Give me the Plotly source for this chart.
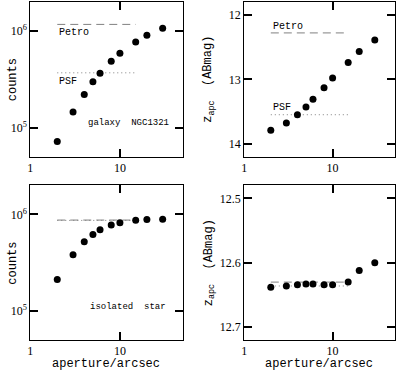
import plotly.graph_objects as go

aperture = [2, 3, 4, 5, 6, 8, 10, 15, 20, 30]

galaxy_counts = [7.2e4, 1.45e5, 2.2e5, 2.98e5, 3.66e5, 4.87e5, 5.89e5, 7.7e5, 9.05e5, 1.07e6]
galaxy_mag = [13.79, 13.68, 13.55, 13.43, 13.31, 13.13, 12.98, 12.74, 12.57, 12.39]
star_counts = [2.12e5, 3.84e5, 5.23e5, 6.22e5, 6.95e5, 7.76e5, 8.2e5, 8.73e5, 8.87e5, 8.93e5]
star_mag = [12.638, 12.636, 12.634, 12.633, 12.633, 12.634, 12.634, 12.630, 12.612, 12.600]

ref_x = [2, 15]
galaxy_petro_counts = 1.17e6
galaxy_psf_counts = 3.69e5
galaxy_petro_mag = 12.28
galaxy_psf_mag = 13.55
star_petro_counts = 8.75e5
star_psf_counts = 8.68e5
star_petro_mag = 12.630
star_psf_mag = 12.636

x_major = [1, 10]
x_minor = [2, 3, 4, 5, 6, 7, 8, 9, 20, 30, 40]
counts_major = [1e5, 1e6]
counts_minor = [m * 10 ** e for e in (4, 5, 6) for m in range(2, 10)]

SERIF = "Liberation Serif"
MONO = "Liberation Mono"
INK = "black"

fig = go.Figure()

panels = [
    ("x", "y", galaxy_counts, galaxy_petro_counts, galaxy_psf_counts),
    ("x2", "y2", galaxy_mag, galaxy_petro_mag, galaxy_psf_mag),
    ("x3", "y3", star_counts, star_petro_counts, star_psf_counts),
    ("x4", "y4", star_mag, star_petro_mag, star_psf_mag),
]

for xa, ya, vals, petro, psf in panels:
    fig.add_trace(go.Scatter(x=ref_x, y=[petro, petro], xaxis=xa, yaxis=ya, mode="lines",
                             line=dict(color="#808080", width=1, dash="8px,5px"), showlegend=False))
    fig.add_trace(go.Scatter(x=ref_x, y=[psf, psf], xaxis=xa, yaxis=ya, mode="lines",
                             line=dict(color="#808080", width=1, dash="1px,3px"), showlegend=False))
    fig.add_trace(go.Scatter(x=aperture, y=vals, xaxis=xa, yaxis=ya, mode="markers",
                             marker=dict(color="black", size=7), showlegend=False))

common = dict(showline=True, linecolor=INK, linewidth=1, mirror="allticks",
              ticks="inside", ticklen=8, tickwidth=2, tickcolor=INK, showgrid=False,
              zeroline=False, tickfont=dict(family=SERIF, size=12, color=INK))
minor_common = dict(showline=False, mirror="allticks", ticks="inside", ticklen=5, tickwidth=2,
                    tickcolor=INK, showgrid=False, zeroline=False, showticklabels=False)

# panel positions (plot area is 395 x 369 px inside a 1px margin)
xl = [0.0671, 0.4557]
xr = [0.6127, 0.9962]
yt = [0.5799, 1.0]
yb = [0.0813, 0.5014]

layout = dict(width=397, height=371, margin=dict(l=1, r=1, t=1, b=1),
              paper_bgcolor="white", plot_bgcolor="white")

# (axis number, x domain, y domain, y kind)
grid = [(1, xl, yt, "counts"), (2, xr, yt, "mag_top"),
        (3, xl, yb, "counts"), (4, xr, yb, "mag_bot")]

for n, xd, yd, kind in grid:
    s = "" if n == 1 else str(n)
    m = str(n + 4)
    layout["xaxis" + s] = dict(common, type="log", range=[0, 1.7], domain=xd, anchor="y" + s,
                               tickvals=x_major, ticktext=["1", "10"])
    layout["xaxis" + m] = dict(minor_common, type="log", range=[0, 1.7], overlaying="x" + s,
                               anchor="y" + s, tickvals=x_minor)
    if kind == "counts":
        layout["yaxis" + s] = dict(common, type="log", range=[4.7, 6.3], domain=yd,
                                   anchor="x" + s, tickvals=counts_major,
                                   ticktext=["10<sup>5</sup>", "10<sup>6</sup>"])
        layout["yaxis" + m] = dict(minor_common, type="log", range=[4.7, 6.3],
                                   overlaying="y" + s, anchor="x" + s, tickvals=counts_minor)
    else:
        rng, dt, mdt = ([14.2, 11.8], 1, 0.2) if kind == "mag_top" else ([12.72, 12.48], 0.1, 0.02)
        layout["yaxis" + s] = dict(common, range=rng, domain=yd, anchor="x" + s, dtick=dt,
                                   tick0=12)
        layout["yaxis" + m] = dict(minor_common, range=rng, overlaying="y" + s,
                                   anchor="x" + s, dtick=mdt, tick0=12)

fig.update_layout(**layout)

# axis titles
title_font = dict(family=MONO, size=12, color=INK)
for xc in (sum(xl) / 2, sum(xr) / 2):
    fig.add_annotation(xref="paper", yref="paper", x=xc, y=6 / 369, text="aperture/arcsec",
                       showarrow=False, xanchor="center", yanchor="middle", font=title_font)
for yc in (sum(yt) / 2, sum(yb) / 2):
    fig.add_annotation(xref="paper", yref="paper", x=9 / 395, y=yc, text="counts", textangle=-90,
                       showarrow=False, xanchor="center", yanchor="middle",
                       font=dict(family=MONO, size=12, color=INK))
    fig.add_annotation(xref="paper", yref="paper", x=207 / 395, y=yc, text="z<sub>apc</sub>  (ABmag)",
                       textangle=-90, showarrow=False, xanchor="center", yanchor="middle",
                       font=dict(family=MONO, size=12, color=INK))

lab = dict(family=MONO, size=10, color=INK)
notes = [
    ("x", "y", 0.301, 5.985, "Petro"),
    ("x", "y", 0.301, 5.481, "PSF"),
    ("x2", "y2", 0.301, 12.18, "Petro"),
    ("x2", "y2", 0.301, 13.44, "PSF"),
]
for xa, ya, x, y, t in notes:
    fig.add_annotation(xref=xa, yref=ya, x=x, y=y, text=t, showarrow=False,
                       xanchor="left", yanchor="middle", font=lab)

small = dict(family=MONO, size=9, color=INK)
fig.add_annotation(xref="x", yref="y", x=1.094, y=5.05, text="galaxy  NGC1321", showarrow=False,
                   xanchor="center", yanchor="middle", font=small)
fig.add_annotation(xref="x3", yref="y3", x=1.09, y=5.04, text="isolated  star", showarrow=False,
                   xanchor="center", yanchor="middle", font=small)

fig.write_html("out.html", config={"displayModeBar": False},
               post_script="document.body.style.margin='0px';")
